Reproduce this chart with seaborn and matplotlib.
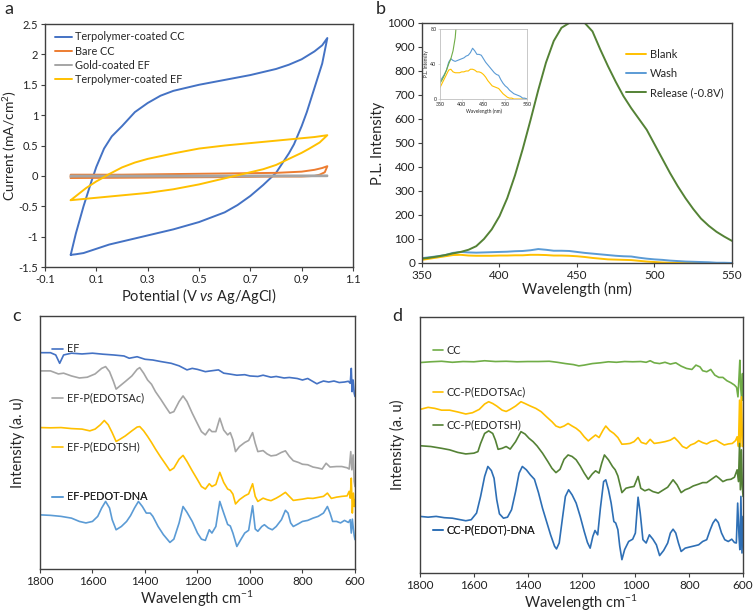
import numpy as np
import pandas as pd
import matplotlib
matplotlib.use("Agg")
import matplotlib.pyplot as plt
import seaborn as sns

# ---------- panel a: cyclic voltammetry (potential, current) ----------
terp_cc_v = [0.0, 0.02, 0.05, 0.08, 0.1, 0.13, 0.16, 0.2, 0.25, 0.3, 0.35, 0.4, 0.5, 0.6, 0.7, 0.8, 0.85, 0.9, 0.95, 0.98, 1.0,
             0.98, 0.95, 0.92, 0.9, 0.87, 0.85, 0.8, 0.75, 0.7, 0.65, 0.6, 0.5, 0.4, 0.3, 0.2, 0.15, 0.1, 0.05, 0.02, 0.0]
terp_cc_i = [-1.3, -0.95, -0.5, -0.1, 0.15, 0.45, 0.65, 0.82, 1.05, 1.2, 1.32, 1.4, 1.5, 1.58, 1.66, 1.76, 1.83, 1.92, 2.05, 2.15, 2.27,
             1.85, 1.45, 1.05, 0.82, 0.52, 0.37, 0.05, -0.15, -0.33, -0.48, -0.6, -0.76, -0.88, -0.98, -1.08, -1.13, -1.2, -1.27, -1.29, -1.3]
bare_cc_v = [0.0, 0.0, 0.2, 0.4, 0.6, 0.8, 0.9, 0.95, 0.98, 1.0, 0.99, 0.97, 0.95, 0.9, 0.8, 0.6, 0.4, 0.2, 0.0]
bare_cc_i = [-0.035, 0.02, 0.02, 0.03, 0.04, 0.05, 0.07, 0.1, 0.13, 0.16, 0.06, 0.02, 0.0, -0.01, -0.01, -0.02, -0.025, -0.03, -0.035]
gold_ef_v = [0.0, 0.0, 0.5, 1.0, 1.0, 0.5, 0.0]
gold_ef_i = [-0.01, 0.005, 0.005, 0.008, -0.005, -0.01, -0.01]
terp_ef_v = [0.0, 0.03, 0.06, 0.1, 0.13, 0.15, 0.2, 0.25, 0.3, 0.4, 0.5, 0.6, 0.7, 0.8, 0.9, 0.95, 1.0,
             0.97, 0.93, 0.9, 0.85, 0.8, 0.75, 0.7, 0.65, 0.6, 0.5, 0.4, 0.3, 0.2, 0.1, 0.05, 0.0]
terp_ef_i = [-0.4, -0.3, -0.2, -0.09, -0.02, 0.03, 0.14, 0.22, 0.28, 0.37, 0.45, 0.5, 0.54, 0.58, 0.62, 0.64, 0.67,
             0.55, 0.45, 0.38, 0.28, 0.18, 0.11, 0.06, 0.01, -0.04, -0.14, -0.22, -0.28, -0.32, -0.36, -0.38, -0.4]

# ---------- panel b: photoluminescence ----------
wl = list(range(350, 551, 5))
pl_blank = [13, 18, 23, 28, 33, 34, 31, 30, 30, 30, 31, 31, 32, 32, 34, 34, 33, 31, 31, 30, 28, 25, 21, 18, 15, 14, 13, 12, 9, 6,
            4, 2, 1, 1, 0, 0, 0, 0, 0, 0, 0]
pl_wash = [20, 24, 28, 33, 42, 46, 44, 43, 44, 45, 46, 47, 49, 50, 53, 58, 55, 51, 51, 50, 46, 42, 39, 36, 33, 30, 28, 27, 22, 18,
           15, 13, 10, 8, 6, 5, 4, 3, 1, 1, 0]
pl_release = [18, 22, 27, 33, 40, 46, 55, 70, 100, 140, 195, 270, 365, 475, 595, 720, 835, 925, 980, 1000, 1000, 1000, 965, 890,
              820, 755, 695, 645, 600, 555, 495, 435, 375, 320, 270, 225, 185, 155, 130, 110, 92]

# ---------- panel c: FTIR of EF samples ----------
ef_wn = [1800, 1760, 1740, 1725, 1710, 1680, 1640, 1600, 1560, 1520, 1480, 1460, 1430, 1400, 1370, 1340, 1300, 1270, 1240, 1220,
         1200, 1170, 1150, 1120, 1100, 1080, 1050, 1020, 1000, 970, 950, 920, 900, 870, 850, 820, 800, 780, 760, 745, 735, 720,
         700, 680, 660, 640, 625, 618, 614, 611, 607, 603, 600]
ef_y = [85.5, 85.5, 84.6, 81.3, 84.6, 85.3, 85.0, 85.3, 84.9, 84.6, 84.2, 83.3, 83.9, 82.9, 82.6, 82.0, 81.3, 80.3, 78.7, 79.3,
        78.9, 78.0, 78.3, 78.7, 77.4, 77.1, 76.6, 76.8, 76.3, 76.1, 76.6, 75.8, 76.1, 75.5, 75.7, 75.3, 74.7, 75.3, 74.1, 73.2,
        73.7, 74.3, 73.9, 74.3, 73.7, 73.9, 74.2, 73.4, 79.3, 70.1, 74.7, 69.5, 68.2]

efsac_wn = [1800, 1760, 1730, 1710, 1680, 1650, 1620, 1590, 1565, 1550, 1535, 1520, 1510, 1495, 1475, 1450, 1430, 1420, 1405, 1390,
            1375, 1360, 1340, 1320, 1305, 1290, 1270, 1255, 1240, 1220, 1200, 1185, 1170, 1155, 1145, 1130, 1115, 1100, 1085,
            1075, 1065, 1055, 1040, 1020, 1005, 990, 980, 970, 950, 935, 920, 900, 880, 865, 850, 835, 815, 800, 780, 760, 740,
            725, 710, 695, 670, 650, 630, 622, 616, 612, 607, 603, 600]
efsac_y = [78.3, 78.3, 77.1, 77.4, 76.3, 75.5, 75.8, 77.1, 79.3, 80.0, 78.0, 74.1, 71.1, 72.4, 74.1, 76.3, 78.9, 79.6, 77.4, 74.7,
           73.0, 70.1, 67.1, 63.9, 61.6, 62.2, 66.2, 68.4, 66.2, 61.6, 57.4, 54.3, 53.0, 55.3, 54.3, 54.3, 59.6, 54.9, 53.0,
           53.9, 51.1, 46.4, 48.4, 50.0, 50.8, 53.9, 49.7, 46.4, 46.8, 45.5, 44.7, 45.0, 46.1, 46.7, 44.5, 42.8, 42.1, 41.4,
           41.2, 40.3, 39.9, 39.5, 41.8, 40.3, 40.5, 40.5, 40.0, 39.5, 46.4, 39.2, 45.1, 34.6, 32.6]

efsh_wn = [1800, 1760, 1720, 1680, 1640, 1610, 1590, 1570, 1555, 1540, 1525, 1510, 1495, 1475, 1450, 1430, 1420, 1405, 1390, 1375,
           1360, 1340, 1320, 1305, 1290, 1270, 1255, 1240, 1220, 1200, 1185, 1170, 1155, 1145, 1130, 1115, 1100, 1085, 1075,
           1065, 1055, 1040, 1020, 1005, 990, 980, 970, 950, 935, 920, 900, 885, 865, 850, 835, 815, 800, 780, 760, 740, 720,
           705, 690, 670, 650, 630, 622, 618, 614, 610, 606, 602, 600]
efsh_y = [55.9, 55.8, 55.9, 55.5, 55.3, 54.6, 55.3, 57.0, 58.7, 57.0, 53.9, 50.4, 51.3, 52.6, 54.6, 56.1, 56.3, 54.6, 52.4, 50.0,
          47.4, 44.2, 41.2, 38.9, 39.9, 43.4, 44.9, 42.5, 38.8, 35.3, 32.6, 31.6, 33.7, 32.6, 33.4, 38.2, 34.2, 31.6, 31.1,
          29.6, 25.7, 27.4, 28.9, 29.7, 33.7, 28.7, 26.7, 28.0, 27.4, 27.0, 28.0, 28.9, 30.3, 28.7, 27.1, 27.4, 27.6, 28.0,
          27.9, 28.3, 28.7, 30.0, 27.9, 28.4, 28.7, 28.9, 30.7, 28.0, 35.9, 22.1, 30.0, 24.7, 27.4]

efdna_wn = [1800, 1760, 1720, 1680, 1650, 1625, 1600, 1580, 1565, 1550, 1535, 1525, 1510, 1490, 1470, 1455, 1440, 1425, 1410, 1395,
            1380, 1370, 1350, 1330, 1305, 1290, 1270, 1255, 1240, 1220, 1200, 1185, 1170, 1155, 1145, 1130, 1115, 1100, 1085,
            1075, 1065, 1050, 1035, 1020, 1005, 990, 980, 970, 955, 945, 930, 915, 900, 880, 865, 855, 845, 835, 815, 800, 780,
            760, 740, 720, 705, 695, 685, 670, 655, 640, 625, 618, 614, 610, 606, 603, 600]
efdna_y = [21.4, 21.2, 20.8, 20.1, 18.8, 18.2, 18.8, 20.8, 24.1, 26.7, 24.1, 19.5, 15.5, 16.8, 18.8, 21.1, 24.1, 26.7, 24.7, 22.1,
           22.1, 20.8, 16.8, 13.6, 10.5, 11.8, 18.2, 24.7, 22.4, 18.8, 14.2, 11.8, 11.3, 15.5, 14.2, 16.8, 26.7, 22.1, 17.6,
           17.0, 14.2, 8.9, 11.6, 14.2, 15.3, 25.0, 15.8, 14.9, 16.8, 17.5, 16.2, 15.5, 16.8, 19.5, 23.2, 22.1, 18.2, 16.8,
           17.9, 18.8, 19.2, 20.1, 20.8, 22.1, 24.7, 22.1, 18.8, 18.8, 18.2, 19.2, 18.4, 19.5, 14.2, 19.7, 15.8, 13.2, 11.6]

# ---------- panel d: FTIR of CC samples ----------
cc_wn = [1800, 1760, 1720, 1680, 1640, 1600, 1560, 1520, 1480, 1440, 1400, 1360, 1320, 1290, 1260, 1230, 1210, 1190, 1160, 1130,
         1100, 1070, 1040, 1010, 980, 960, 945, 930, 910, 890, 870, 850, 830, 810, 790, 775, 760, 750, 735, 720, 705, 690,
         675, 660, 645, 632, 624, 619, 615, 612, 609, 605, 602, 600]
cc_y = [82.2, 82.5, 82.7, 82.3, 82.6, 82.5, 82.9, 82.6, 82.7, 82.5, 82.6, 82.6, 82.7, 82.3, 81.8, 81.4, 80.9, 81.2, 81.8, 82.1,
        82.5, 82.3, 82.6, 82.5, 82.6, 82.3, 82.9, 82.1, 81.8, 82.3, 81.6, 82.1, 80.8, 79.9, 79.5, 81.2, 80.5, 79.0, 78.6, 79.5,
        77.3, 76.4, 76.4, 75.1, 74.3, 73.4, 72.5, 68.8, 76.6, 83.1, 72.7, 67.5, 77.9, 67.5]

ccsac_wn = [1800, 1770, 1745, 1720, 1690, 1660, 1630, 1605, 1580, 1560, 1545, 1530, 1515, 1495, 1480, 1465, 1445, 1425, 1410, 1390,
            1370, 1350, 1330, 1310, 1295, 1280, 1265, 1250, 1235, 1220, 1205, 1190, 1175, 1160, 1148, 1135, 1120, 1110, 1095,
            1080, 1065, 1050, 1035, 1020, 1005, 990, 978, 960, 945, 930, 910, 890, 870, 855, 840, 825, 810, 795, 780, 765, 750,
            735, 720, 700, 685, 670, 655, 640, 628, 622, 617, 613, 610, 606, 602, 600]
ccsac_y = [63.9, 64.7, 64.3, 63.6, 63.6, 62.9, 62.1, 62.6, 63.9, 66.0, 66.9, 66.2, 65.2, 63.6, 63.1, 63.9, 65.2, 66.9, 66.2, 65.2,
           64.3, 63.0, 61.0, 59.1, 57.4, 56.8, 57.4, 58.4, 57.4, 56.5, 55.2, 53.2, 51.6, 52.9, 53.9, 52.9, 55.8, 57.4, 55.6,
           54.5, 52.9, 50.3, 50.4, 50.6, 51.3, 52.9, 51.0, 50.4, 52.2, 50.6, 50.9, 51.3, 51.9, 52.9, 51.3, 49.4, 48.7, 50.0,
           50.6, 51.7, 50.9, 50.4, 51.3, 51.9, 50.9, 50.0, 50.4, 50.6, 51.7, 53.2, 49.4, 67.5, 49.4, 68.8, 49.4, 50.6]

ccsh_wn = [1800, 1760, 1720, 1690, 1660, 1630, 1600, 1585, 1575, 1560, 1545, 1530, 1520, 1510, 1495, 1480, 1465, 1445, 1425, 1410,
           1395, 1380, 1365, 1345, 1325, 1310, 1295, 1280, 1265, 1250, 1235, 1220, 1205, 1190, 1175, 1160, 1148, 1135, 1125,
           1115, 1100, 1085, 1075, 1065, 1050, 1035, 1020, 1005, 990, 980, 965, 950, 935, 915, 900, 880, 860, 845, 830, 815,
           800, 785, 765, 750, 735, 720, 700, 690, 675, 660, 645, 632, 622, 617, 613, 610, 606, 603, 600]
ccsh_y = [49.7, 49.4, 48.7, 48.1, 47.1, 46.5, 46.8, 47.4, 50.6, 54.5, 55.5, 54.5, 51.9, 48.3, 48.7, 49.4, 48.4, 51.3, 55.2, 54.3,
          52.6, 51.3, 49.6, 46.8, 43.5, 40.9, 39.2, 40.5, 44.4, 46.1, 45.5, 44.2, 41.8, 39.0, 36.6, 38.7, 39.9, 39.0, 42.9,
          46.1, 44.2, 41.6, 40.3, 37.9, 31.4, 33.1, 33.5, 33.8, 37.7, 33.1, 32.1, 32.7, 31.8, 31.2, 32.2, 33.5, 36.4, 34.4,
          31.4, 32.5, 33.1, 34.0, 34.7, 35.3, 35.3, 36.4, 37.9, 37.1, 35.7, 36.4, 36.6, 37.4, 40.3, 35.7, 50.6, 32.5, 48.1,
          33.8, 29.9]

ccdna_wn = [1800, 1770, 1740, 1710, 1680, 1650, 1630, 1610, 1590, 1575, 1560, 1548, 1535, 1525, 1515, 1505, 1490, 1475, 1460, 1445,
            1432, 1420, 1405, 1390, 1375, 1360, 1345, 1330, 1315, 1300, 1293, 1283, 1270, 1260, 1248, 1235, 1220, 1205, 1190,
            1178, 1168, 1158, 1150, 1140, 1130, 1118, 1110, 1100, 1090, 1080, 1073, 1065, 1058, 1050, 1040, 1025, 1010, 1000,
            990, 982, 972, 960, 948, 935, 922, 910, 895, 880, 870, 860, 850, 840, 830, 815, 800, 780, 765, 750, 735, 722, 712,
            702, 692, 680, 668, 655, 642, 632, 625, 620, 615, 612, 608, 604, 600]
ccdna_y = [22.1, 21.8, 22.1, 21.6, 21.4, 20.8, 20.4, 20.8, 23.4, 29.9, 37.7, 41.6, 40.0, 37.0, 28.6, 23.1, 21.4, 21.8, 24.7, 31.8,
           39.0, 41.6, 40.3, 38.3, 36.6, 31.4, 25.3, 20.1, 14.9, 10.4, 9.4, 11.7, 22.1, 29.9, 32.5, 30.5, 27.3, 22.1, 16.2,
           11.9, 9.7, 14.3, 16.6, 14.9, 25.3, 35.7, 36.4, 32.5, 27.3, 20.1, 19.5, 16.9, 10.4, 5.2, 9.1, 12.3, 13.2, 15.6,
           29.6, 23.4, 13.0, 11.7, 14.9, 13.2, 11.0, 6.8, 8.8, 11.7, 15.6, 17.1, 15.6, 11.7, 8.4, 9.7, 10.1, 10.6, 11.0, 12.3,
           13.0, 16.9, 19.5, 21.0, 19.7, 15.6, 13.0, 12.3, 13.2, 11.9, 11.7, 27.3, 14.3, 9.1, 29.9, 7.8, 22.1]

# ---------- style ----------
sns.set_theme(style="ticks")
plt.rcParams['font.family'] = ['Lato', 'DejaVu Sans']
plt.rcParams['mathtext.fontset'] = 'custom'
plt.rcParams['mathtext.rm'] = 'Lato'
plt.rcParams['mathtext.it'] = 'Lato:italic'
plt.rcParams['axes.unicode_minus'] = False

SPINE = '#404040'
BLUE, ORANGE, GREY, GOLD = '#4472C4', '#ED7D31', '#A5A5A5', '#FFC000'
LBLUE, LGREEN, DGREEN, MBLUE = '#5B9BD5', '#70AD47', '#548235', '#2E6FB5'


def style_ax(ax, tick_fs=8.5):
    for s in ax.spines.values():
        s.set_visible(True)
        s.set_color(SPINE)
        s.set_linewidth(1.0)
    ax.tick_params(length=3, width=0.8, color=SPINE, labelsize=tick_fs, pad=2, labelcolor='#222222')


fig = plt.figure(figsize=(7.53, 6.13), dpi=100)

# ---------- a ----------
ax_a = fig.add_axes([0.0598, 0.5644, 0.409, 0.3964])
for v, i, c, lab in [(terp_cc_v, terp_cc_i, BLUE, 'Terpolymer-coated CC'),
                     (bare_cc_v, bare_cc_i, ORANGE, 'Bare CC'),
                     (gold_ef_v, gold_ef_i, GREY, 'Gold-coated EF'),
                     (terp_ef_v, terp_ef_i, GOLD, 'Terpolymer-coated EF')]:
    sns.lineplot(x=v, y=i, sort=False, estimator=None, color=c, lw=1.4, label=lab, ax=ax_a)
ax_a.set_xlim(-0.1, 1.1)
ax_a.set_ylim(-1.5, 2.5)
ax_a.set_xticks(np.arange(-0.1, 1.11, 0.2))
ax_a.set_xticklabels(['-0.1', '0.1', '0.3', '0.5', '0.7', '0.9', '1.1'])
ax_a.set_yticks(np.arange(-1.5, 2.51, 0.5))
ax_a.set_yticklabels(['-1.5', '-1', '-0.5', '0', '0.5', '1', '1.5', '2', '2.5'])
ax_a.set_xlabel('Potential (V $\\it{vs}$ Ag/AgCl)', fontsize=10.5, labelpad=1)
ax_a.set_ylabel('Current (mA/cm$^{2}$)', fontsize=10)
style_ax(ax_a, tick_fs=8)
ax_a.yaxis.set_label_coords(-0.085, 0.5)
ax_a.legend(loc='upper left', bbox_to_anchor=(0.0, 1.01), frameon=False, fontsize=7.8,
            handlelength=1.6, handletextpad=0.3, labelspacing=0.3)

# ---------- b ----------
ax_b = fig.add_axes([0.5604, 0.571, 0.4117, 0.3915])
for y, c, lab in [(pl_blank, GOLD, 'Blank'), (pl_wash, LBLUE, 'Wash'), (pl_release, DGREEN, 'Release (-0.8V)')]:
    sns.lineplot(x=wl, y=y, color=c, lw=1.4, label=lab, ax=ax_b)
ax_b.set_xlim(350, 550)
ax_b.set_ylim(0, 1000)
ax_b.set_xticks(range(350, 551, 50))
ax_b.set_yticks(range(0, 1001, 100))
ax_b.set_xlabel('Wavelength (nm)', fontsize=10.5, labelpad=1)
ax_b.set_ylabel('P.L. Intensity', fontsize=10.5, labelpad=2)
style_ax(ax_b)
ax_b.legend(loc='upper left', bbox_to_anchor=(0.625, 0.935), frameon=False, fontsize=8,
            handlelength=1.8, handletextpad=0.4, labelspacing=0.75)

# inset
ax_in = fig.add_axes([0.5843, 0.8385, 0.1155, 0.1142])
for y, c in [(pl_blank, GOLD), (pl_wash, LBLUE), (pl_release, LGREEN)]:
    sns.lineplot(x=wl, y=y, color=c, lw=0.8, ax=ax_in)
ax_in.set_xlim(350, 550)
ax_in.set_ylim(0, 80)
ax_in.set_xticks(range(350, 551, 50))
ax_in.set_yticks([0, 40, 80])
ax_in.set_xlabel('Wavelength (nm)', fontsize=3.4, labelpad=1)
ax_in.set_ylabel('P.L. Intensity', fontsize=3.4, labelpad=1)
for s in ax_in.spines.values():
    s.set_color('#BFBFBF')
    s.set_linewidth(0.6)
ax_in.tick_params(length=1.5, width=0.4, color='#BFBFBF', labelsize=3.8, pad=1)


# ---------- c & d ----------
def ftir(ax, series):
    for wn, y, c, lab, ypos in series:
        sns.lineplot(x=wn, y=y, color=c, lw=1.2, ax=ax)
        ln = ax.lines[-1]
        leg = ax.legend([ln], [lab], loc='center left', bbox_to_anchor=(0.012, ypos), frameon=False,
                        fontsize=7.8, handlelength=1.0, handletextpad=0.3, borderpad=0.3)
        ax.add_artist(leg)
    ax.set_xlim(1800, 600)
    ax.set_ylim(0, 100)
    ax.set_xticks(range(1800, 599, -200))
    ax.set_yticks([])
    ax.set_xlabel('Wavelength cm$^{-1}$', fontsize=10.5, labelpad=1)
    ax.set_ylabel('Intensity (a. u)', fontsize=10.5, labelpad=11)
    style_ax(ax)


ax_c = fig.add_axes([0.0531, 0.0718, 0.4183, 0.4127])
ftir(ax_c, [(ef_wn, ef_y, BLUE, 'EF', 0.87),
            (efsac_wn, efsac_y, GREY, 'EF-P(EDOTSAc)', 0.676),
            (efsh_wn, efsh_y, GOLD, 'EF-P(EDOTSH)', 0.482),
            (efdna_wn, efdna_y, LBLUE, 'EF-PEDOT-DNA', 0.285)])

ax_d = fig.add_axes([0.5578, 0.0653, 0.429, 0.4176])
ftir(ax_d, [(cc_wn, cc_y, LGREEN, 'CC', 0.871),
            (ccsac_wn, ccsac_y, GOLD, 'CC-P(EDOTSAc)', 0.707),
            (ccsh_wn, ccsh_y, DGREEN, 'CC-P(EDOTSH)', 0.578),
            (ccdna_wn, ccdna_y, MBLUE, 'CC-P(EDOT)-DNA', 0.168)])

# panel letters
for x, y, t in [(0.006, 0.998, 'a'), (0.499, 0.998, 'b'), (0.016, 0.498, 'c'), (0.521, 0.498, 'd')]:
    fig.text(x, y, t, fontsize=13, va='top', ha='left')

fig.savefig('out.png', dpi=100)
